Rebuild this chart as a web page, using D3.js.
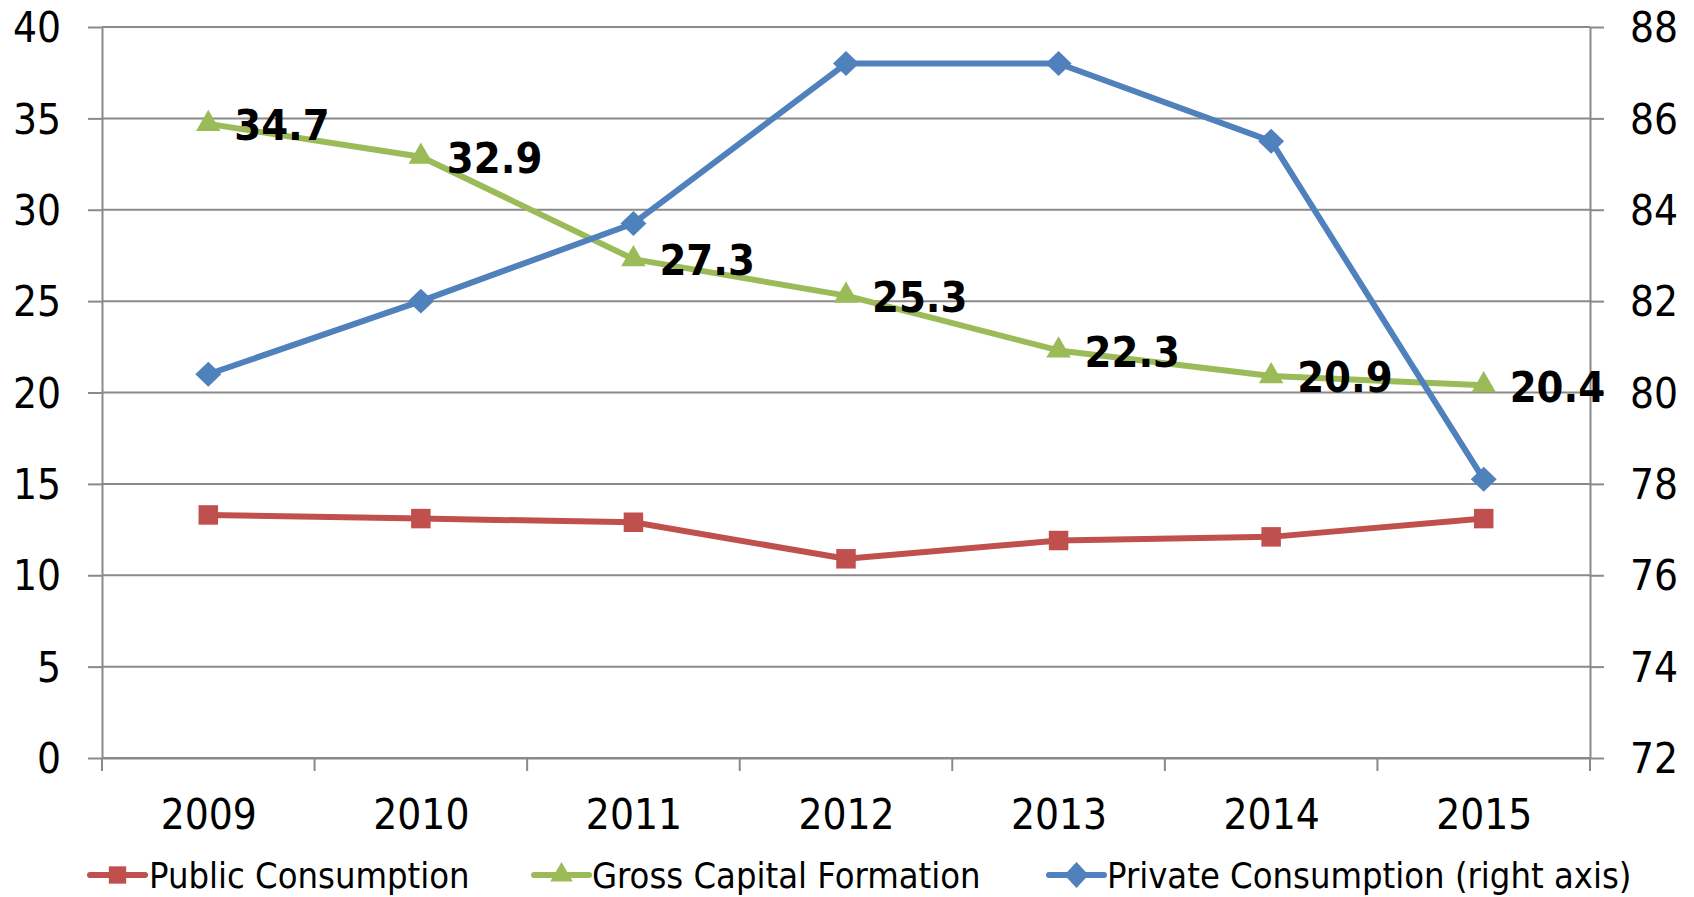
<!DOCTYPE html>
<html>
<head>
<meta charset="utf-8">
<script src="https://cdn.jsdelivr.net/npm/d3@7"></script>
<style>
  html, body { margin: 0; padding: 0; background: #fff; }
  svg { display: block; font-family: "DejaVu Sans Condensed", "DejaVu Sans", sans-serif; font-stretch: condensed; }
</style>
</head>
<body>
<svg id="chart" width="1694" height="897"></svg>
<script>
const years = ["2009", "2010", "2011", "2012", "2013", "2014", "2015"];
const publicConsumption = [13.3, 13.1, 12.9, 10.9, 11.9, 12.1, 13.1];
const grossCapital = [34.7, 32.9, 27.3, 25.3, 22.3, 20.9, 20.4];
const privateConsumption = [80.4, 82.0, 83.7, 87.2, 87.2, 85.5, 78.1];
const leftTicks = [0, 5, 10, 15, 20, 25, 30, 35, 40];
const rightTicks = [72, 74, 76, 78, 80, 82, 84, 86, 88];
const seriesNames = ["Public Consumption", "Gross Capital Formation", "Private Consumption (right axis)"];

const C_RED = "#C0504D", C_GREEN = "#9BBB59", C_BLUE = "#4F81BD", C_GRID = "#8a8a8a";

const svg = d3.select("#chart");
const L = 102, R = 1590, T = 27, B = 758;

const x = d3.scalePoint().domain(years).range([L, R]).padding(0.5);
const xb = d3.scaleBand().domain(years).range([L, R]);
const yL = d3.scaleLinear().domain([0, 40]).range([B, T]);
const yR = d3.scaleLinear().domain([72, 88]).range([B, T]);

// gridlines
svg.append("g").selectAll("line").data(leftTicks).join("line")
  .attr("x1", L).attr("x2", R)
  .attr("y1", d => yL(d)).attr("y2", d => yL(d))
  .attr("stroke", C_GRID).attr("stroke-width", 2);

// left axis
const gl = svg.append("g").attr("transform", `translate(${L},0)`)
  .call(d3.axisLeft(yL).tickValues(leftTicks).tickSize(14).tickPadding(27).tickSizeOuter(0));
// right axis
const gr = svg.append("g").attr("transform", `translate(${R},0)`)
  .call(d3.axisRight(yR).tickValues(rightTicks).tickSize(14).tickPadding(26).tickSizeOuter(0));
// x axis
const gx = svg.append("g").attr("transform", `translate(0,${B})`)
  .call(d3.axisBottom(x).tickSize(0).tickPadding(71));
gx.append("g").selectAll("line").data([...years.map(d => xb(d)), R]).join("line")
  .attr("x1", d => d).attr("x2", d => d).attr("y1", 0).attr("y2", 13)
  .attr("stroke", C_GRID).attr("stroke-width", 2);

[gl, gr, gx].forEach(g => {
  g.selectAll(".domain").attr("stroke", C_GRID).attr("stroke-width", 2);
  g.selectAll(".tick line").attr("stroke", C_GRID).attr("stroke-width", 2);
  g.selectAll("text").attr("fill", "#000").style("font-size", "42px")
    .style("font-family", '"DejaVu Sans Condensed", "DejaVu Sans", sans-serif');
});
gl.selectAll(".tick text").attr("dy", "0.35em");
gr.selectAll(".tick text").attr("dy", "0.35em");
gx.selectAll(".tick text").attr("dy", "0");

// lines
const lineL = d3.line().x((d, i) => x(years[i])).y(d => yL(d));
const lineR = d3.line().x((d, i) => x(years[i])).y(d => yR(d));

function drawSeries(vals, lineGen, yScale, color, shape) {
  const g = svg.append("g");
  g.append("path").datum(vals).attr("d", lineGen).attr("fill", "none")
    .attr("stroke", color).attr("stroke-width", 6).attr("stroke-linejoin", "round");
  const sym = d3.symbol().type(shape).size(shape === d3.symbolTriangle ? 260 : (shape === d3.symbolSquare ? 380 : 320));
  g.selectAll("path.m").data(vals).join("path").attr("class", "m")
    .attr("d", sym)
    .attr("transform", (d, i) => `translate(${x(years[i])},${yScale(d)})${shape === d3.symbolDiamond ? " scale(1.35,0.75)" : ""}`)
    .attr("fill", color);
}

drawSeries(publicConsumption, lineL, yL, C_RED, d3.symbolSquare);
drawSeries(grossCapital, lineL, yL, C_GREEN, d3.symbolTriangle);
drawSeries(privateConsumption, lineR, yR, C_BLUE, d3.symbolDiamond);

// data labels for gross capital formation
svg.append("g").selectAll("text").data(grossCapital).join("text")
  .attr("x", (d, i) => x(years[i]) + 26)
  .attr("y", d => yL(d))
  .attr("dy", "0.38em")
  .style("font-size", "43px").style("font-weight", "bold")
  .attr("fill", "#000")
  .text(d => d.toFixed(1));

// legend
const legendItems = [
  { name: seriesNames[0], color: C_RED, shape: d3.symbolSquare, x1: 90, x2: 145, tx: 149 },
  { name: seriesNames[1], color: C_GREEN, shape: d3.symbolTriangle, x1: 534, x2: 589, tx: 592 },
  { name: seriesNames[2], color: C_BLUE, shape: d3.symbolDiamond, x1: 1049, x2: 1104, tx: 1107 }
];
const ly = 875;
const lg = svg.append("g");
legendItems.forEach(it => {
  lg.append("line").attr("x1", it.x1).attr("x2", it.x2).attr("y1", ly).attr("y2", ly)
    .attr("stroke", it.color).attr("stroke-width", 6).attr("stroke-linecap", "round");
  lg.append("path").attr("d", d3.symbol().type(it.shape).size(it.shape === d3.symbolTriangle ? 220 : 300)())
    .attr("transform", `translate(${(it.x1 + it.x2) / 2},${ly})${it.shape === d3.symbolDiamond ? " scale(1.3,0.8)" : ""}`)
    .attr("fill", it.color);
  lg.append("text").attr("x", it.tx).attr("y", ly).attr("dy", "0.36em")
    .style("font-size", "36px").attr("fill", "#000").text(it.name);
});
</script>
</body>
</html>
